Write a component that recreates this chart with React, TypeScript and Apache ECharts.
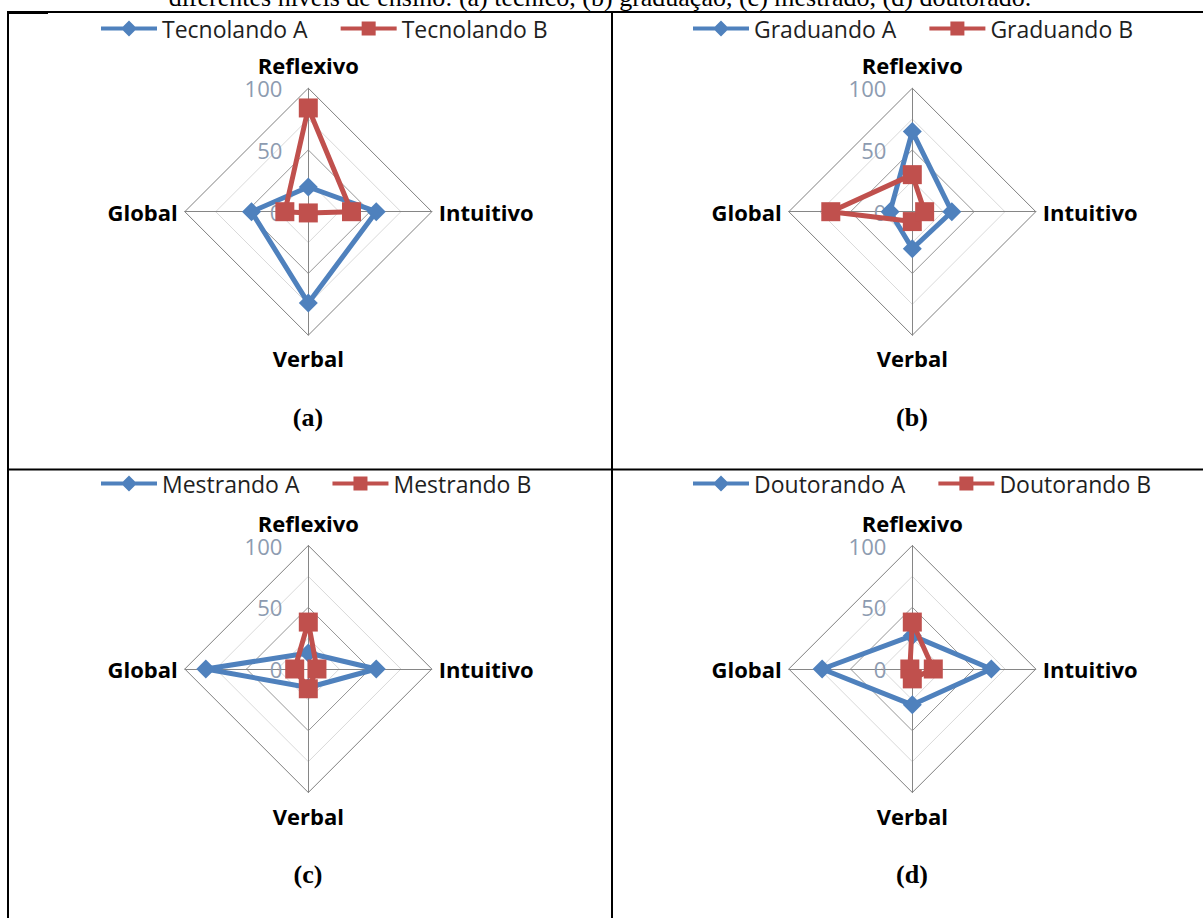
import React, { useEffect, useRef } from "react";
import * as echarts from "echarts";

// Axis categories, in the order Reflexivo, Intuitivo, Verbal, Global
const dimensions = ["Reflexivo", "Intuitivo", "Verbal", "Global"];
const tickLabels = ["0", "50", "100"];
const panelLabels = ["(a)", "(b)", "(c)", "(d)"];
const namesA = ["Tecnolando A", "Graduando A", "Mestrando A", "Doutorando A"];
const namesB = ["Tecnolando B", "Graduando B", "Mestrando B", "Doutorando B"];
const titleText =
  "diferentes níveis de ensino: (a) técnico, (b) graduação, (c) mestrado, (d) doutorado.";

// values: Reflexivo, Intuitivo, Verbal, Global
const tecnolandoA = [20, 55, 74, 46];
const tecnolandoB = [84, 35, 1, 19];
const graduandoA = [65, 32, 30, 18];
const graduandoB = [30, 10, 8, 66];
const mestrandoA = [13, 55, 15, 83];
const mestrandoB = [38, 7, 16, 11];
const doutorandoA = [27, 64, 29, 73];
const doutorandoB = [38, 17, 8, 2];

const seriesA = [tecnolandoA, graduandoA, mestrandoA, doutorandoA];
const seriesB = [tecnolandoB, graduandoB, mestrandoB, doutorandoB];

// ECharts places indicators counter-clockwise from the top
const order = [0, 3, 2, 1];

const BLUE = "#4f81bd";
const RED = "#c0504d";
const ICON_A =
  "path://M0,6L22,6L28,0L34,6L56,6L56,10L34,10L28,16L22,10L0,10Z";
const ICON_B =
  "path://M0,6L21,6L21,1L35,1L35,6L56,6L56,10L35,10L35,15L21,15L21,10L0,10Z";

const layout = [
  { center: [308.3, 211.7], legendLeft: 96, legendTop: 12, label: [308, 417] },
  { center: [912.3, 211.7], legendLeft: 688, legendTop: 12, label: [912, 417] },
  { center: [308.3, 669], legendLeft: 96, legendTop: 467, label: [308, 874] },
  { center: [912.3, 669], legendLeft: 688, legendTop: 467, label: [912, 874] },
];

export default function App() {
  const ref = useRef<HTMLDivElement>(null);
  useEffect(() => {
    if (!ref.current) return;
    const chart = echarts.init(ref.current, undefined, { renderer: "svg" });

    const radar = layout.map((l) => ({
      center: l.center,
      radius: 123.5,
      startAngle: 90,
      shape: "polygon",
      splitNumber: 4,
      nameGap: 7,
      axisName: {
        color: "#000",
        fontFamily: "Open Sans",
        fontWeight: "bold",
        fontSize: 22,
        padding: [5, 0, 5, 0],
      },
      indicator: order.map((k, i) => {
        const ind: any = { name: dimensions[k], min: 0, max: 100 };
        if (i === 0) {
          ind.axisLabel = {
            show: true,
            margin: 26,
            color: "#8d9bb0",
            fontFamily: "Open Sans",
            fontSize: 22,
            padding: [6, 0, 0, 0],
            formatter: (v: number) =>
              tickLabels.indexOf(String(v)) >= 0 ? String(v) : "",
          };
        }
        return ind;
      }),
      axisLine: { lineStyle: { color: "#868686", width: 1 } },
      splitLine: {
        lineStyle: {
          color: ["#868686", "#d9d9d9", "#969696", "#d9d9d9", "#7f7f7f"],
          width: 1,
        },
      },
      splitArea: { show: false },
      axisTick: { show: false },
      axisLabel: { show: false },
    }));

    const series: any[] = [];
    layout.forEach((_, p) => {
      series.push({
        type: "radar",
        radarIndex: p,
        name: namesA[p],
        symbol: "diamond",
        symbolSize: 19,
        lineStyle: { color: BLUE, width: 5 },
        itemStyle: { color: BLUE },
        z: 2,
        data: [{ name: namesA[p], value: order.map((k) => seriesA[p][k]) }],
      });
      series.push({
        type: "radar",
        radarIndex: p,
        name: namesB[p],
        symbol: "rect",
        symbolSize: 19,
        lineStyle: { color: RED, width: 5 },
        itemStyle: { color: RED },
        z: 3,
        data: [{ name: namesB[p], value: order.map((k) => seriesB[p][k]) }],
      });
    });

    const legend = layout.map((l, p) => ({
      left: l.legendLeft,
      top: l.legendTop,
      orient: "horizontal",
      itemWidth: 56,
      itemHeight: 16,
      itemGap: 33,
      selectedMode: false,
      itemStyle: { borderWidth: 0 },
      textStyle: { fontFamily: "Open Sans", fontSize: 23, color: "#1f1f1f" },
      data: [
        { name: namesA[p], icon: ICON_A },
        { name: namesB[p], icon: ICON_B },
      ],
    }));

    const border = { fill: "#000" };
    const graphic: any[] = [
      { type: "rect", shape: { x: 7, y: 11, width: 1196, height: 2 }, style: border },
      { type: "rect", shape: { x: 7, y: 11, width: 41, height: 3 }, style: border },
      { type: "rect", shape: { x: 7, y: 468.5, width: 1196, height: 2 }, style: border },
      { type: "rect", shape: { x: 7, y: 11, width: 2, height: 907 }, style: border },
      { type: "rect", shape: { x: 611, y: 11, width: 2, height: 907 }, style: border },
      {
        type: "text",
        x: 600,
        y: -2.3,
        style: {
          text: titleText,
          font: '26px "Liberation Serif"',
          fill: "#000",
          textAlign: "center",
          textVerticalAlign: "middle",
        },
      },
      ...layout.map((l, p) => ({
        type: "text",
        x: l.label[0],
        y: l.label[1],
        style: {
          text: panelLabels[p],
          font: 'bold 26px "Liberation Serif"',
          fill: "#000",
          textAlign: "center",
          textVerticalAlign: "middle",
        },
      })),
    ];

    chart.setOption({
      animation: false,
      radar,
      legend,
      series,
      graphic,
    });
    return () => chart.dispose();
  }, []);

  return (
    <div
      ref={ref}
      style={{ position: "absolute", left: 0, top: 0, width: 1203, height: 918 }}
    />
  );
}
